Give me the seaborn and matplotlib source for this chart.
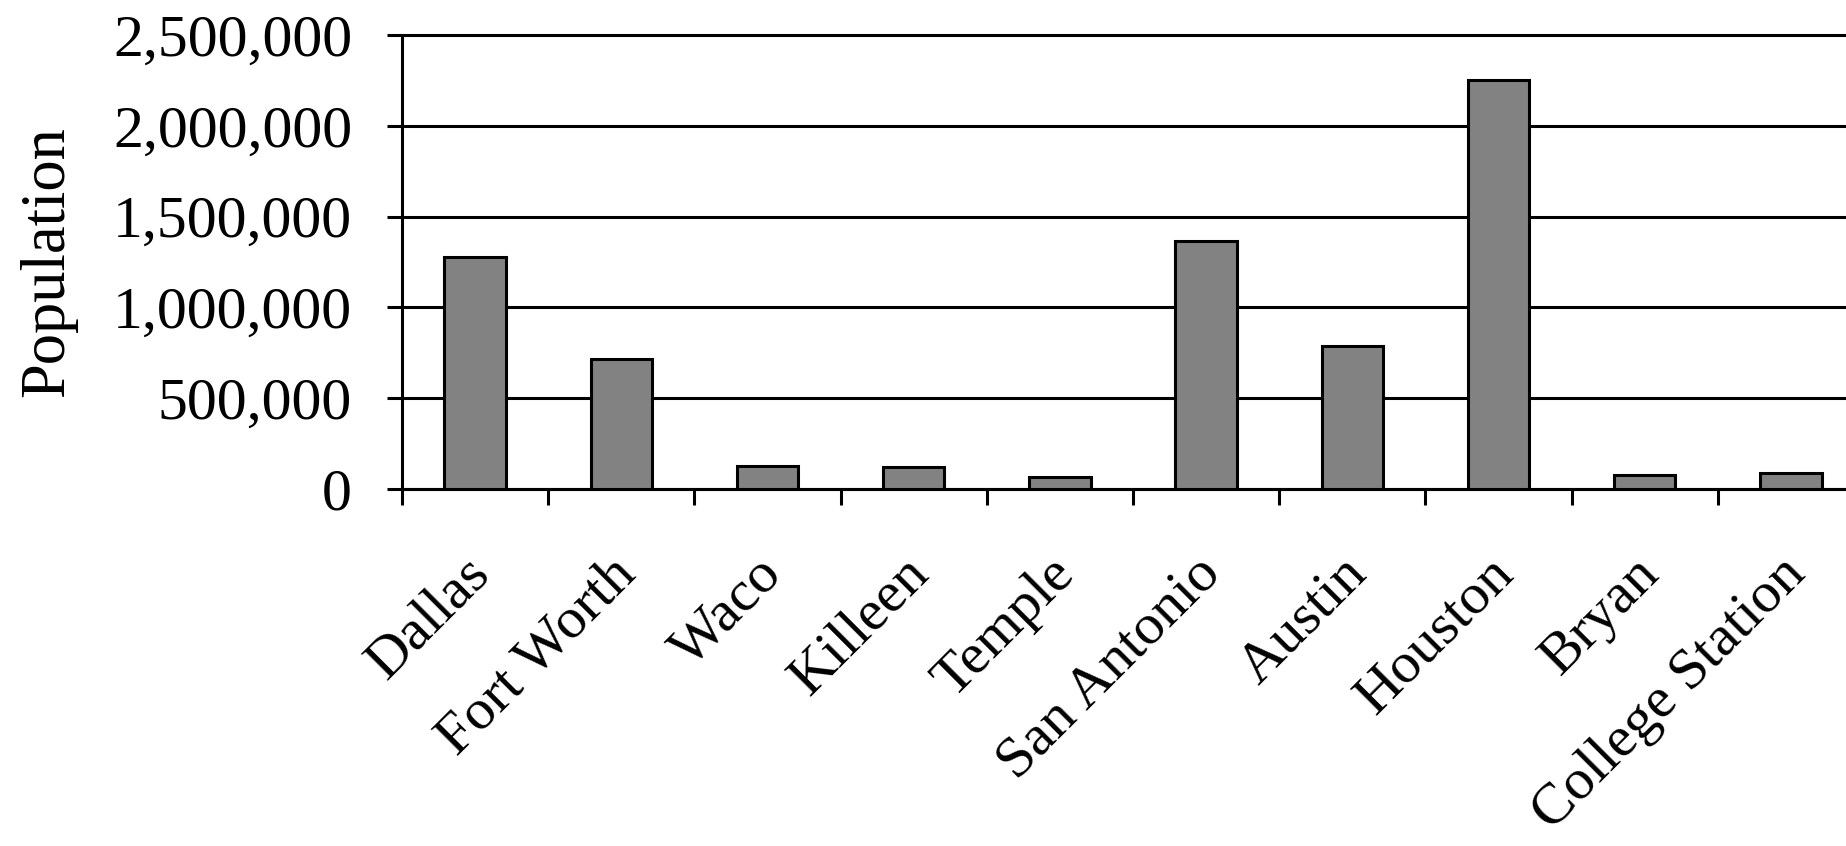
import seaborn as sns
import matplotlib.pyplot as plt
import matplotlib.transforms as mtransforms
from matplotlib.ticker import FuncFormatter, FixedLocator

# data
cities = ['Dallas', 'Fort Worth', 'Waco', 'Killeen', 'Temple',
          'San Antonio', 'Austin', 'Houston', 'Bryan', 'College Station']
population = [1280000, 718000, 125000, 119000, 67000,
              1365000, 788000, 2254000, 75000, 87000]
yticks = [0, 500000, 1000000, 1500000, 2000000, 2500000]

sns.set_style('white')
plt.rcParams['font.family'] = ['Liberation Serif', 'DejaVu Serif']
plt.rcParams['text.color'] = 'black'
plt.rcParams['xtick.color'] = 'black'
plt.rcParams['ytick.color'] = 'black'
plt.rcParams['axes.labelcolor'] = 'black'

fig = plt.figure(figsize=(18.46, 8.46), dpi=100)
# axes runs past the right edge, as in the reference
ax = fig.add_axes([0.2178, 0.422, 0.792, 0.5366])

sns.barplot(x=cities, y=population, color='#828282', saturation=1,
            width=0.42, edgecolor='black', linewidth=2.2, ax=ax, zorder=3)

ax.set_xlim(-0.5, len(cities) - 0.5)
ax.set_ylim(0, 2500000)
ax.set_yticks(yticks)
ax.yaxis.set_major_formatter(FuncFormatter(lambda v, p: f'{int(v):,}'))

ax.set_axisbelow(True)
ax.yaxis.grid(True, color='black', linewidth=2.2)
for gl in ax.get_ygridlines():
    gl.set_clip_on(False)

for side in ['top', 'right']:
    ax.spines[side].set_visible(False)
for side in ['left', 'bottom']:
    ax.spines[side].set_linewidth(2.2)
    ax.spines[side].set_color('black')

ax.tick_params(axis='y', direction='out', length=11, width=2.2,
               labelsize=43, pad=25, left=True)
# category separators as minor ticks, no ticks at the labels
ax.xaxis.set_minor_locator(FixedLocator([i - 0.5 for i in range(len(cities) + 1)]))
ax.tick_params(axis='x', which='minor', direction='out', length=11.5,
               width=2.2, bottom=True)
ax.tick_params(axis='x', which='major', length=0, labelsize=42, pad=42)

offset = mtransforms.ScaledTranslation(-12 / 100, 0, fig.dpi_scale_trans)
for lab in ax.get_xticklabels():
    lab.set_rotation(45)
    lab.set_ha('right')
    lab.set_va('top')
    lab.set_rotation_mode('anchor')
    lab.set_transform(lab.get_transform() + offset)

ax.set_xlabel('')
ax.set_ylabel('Population', fontsize=45)
ax.yaxis.set_label_coords(-0.222, 0.5)

fig.savefig('out.png', dpi=100)
